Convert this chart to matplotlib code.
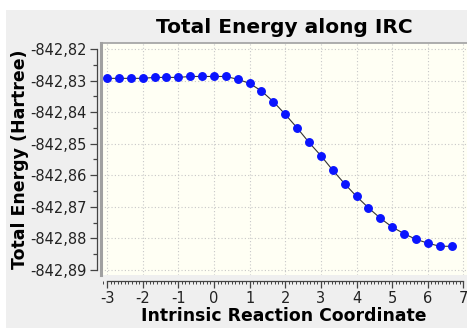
import numpy as np
import matplotlib
matplotlib.use("Agg")
from matplotlib import pyplot as plt
from matplotlib.patches import Rectangle
from matplotlib.ticker import MultipleLocator, FixedLocator, FixedFormatter

# IRC points, step 1/3 in reaction coordinate
irc = [-3.0, -2.667, -2.333, -2.0, -1.667, -1.333, -1.0, -0.667, -0.333, 0.0,
       0.333, 0.667, 1.0, 1.333, 1.667, 2.0, 2.333, 2.667, 3.0, 3.333,
       3.667, 4.0, 4.333, 4.667, 5.0, 5.333, 5.667, 6.0, 6.333, 6.667]
energy = [-842.8293, -842.8293, -842.8293, -842.8293, -842.8290, -842.8290,
          -842.8290, -842.8287, -842.8287, -842.8287, -842.8287, -842.8296,
          -842.8309, -842.8333, -842.8367, -842.8407, -842.8450, -842.8496,
          -842.8538, -842.8584, -842.8627, -842.8667, -842.8703, -842.8736,
          -842.8764, -842.8785, -842.8803, -842.8815, -842.8825, -842.8825]

xticks = [-3, -2, -1, 0, 1, 2, 3, 4, 5, 6, 7]
yticks = [-842.82, -842.83, -842.84, -842.85, -842.86, -842.87, -842.88, -842.89]
ylabels = ["-842,82", "-842,83", "-842,84", "-842,85", "-842,86", "-842,87", "-842,88", "-842,89"]

fig = plt.figure(figsize=(4.67, 3.28), dpi=100, facecolor="white")
# grey panel behind the chart
fig.patches.append(Rectangle((6/467, 0), 1, 1 - 10/328, transform=fig.transFigure,
                             facecolor="#efefef", edgecolor="none", zorder=-10))

ax = fig.add_axes((101/467, 1 - 275/328, 366/467, 232/328))
ax.set_facecolor("#fffff4")

ax.plot(irc, energy, color="#333333", lw=0.8, marker="o", ms=5.4,
        mfc="#0a14ff", mec="#0a14ff", zorder=3)

ax.set_xlim(-3.17, 7.1)
ax.set_ylim(-842.8916, -842.8181)

ax.xaxis.set_major_locator(FixedLocator(xticks))
ax.xaxis.set_minor_locator(MultipleLocator(0.1))
ax.yaxis.set_major_locator(FixedLocator(yticks))
ax.yaxis.set_major_formatter(FixedFormatter(ylabels))
ax.yaxis.set_minor_locator(MultipleLocator(0.005))
ax.set_xticklabels([str(v) for v in xticks])

ax.grid(which="major", color="#c8c8c8", ls=(0, (1, 2)), lw=0.8)

for s in ["top", "right"]:
    ax.spines[s].set_visible(False)
ax.spines["left"].set_position(("outward", 3))
ax.spines["left"].set_bounds(-842.89, -842.82)
ax.spines["bottom"].set_position(("outward", 4))
ax.spines["bottom"].set_bounds(-3, 7)
ax.spines["left"].set_color("#444444")
ax.spines["bottom"].set_color("#444444")
ax.spines["left"].set_linewidth(0.9)
ax.spines["bottom"].set_linewidth(0.9)

# plot area frame
ax.plot([0, 0], [0, 1], transform=ax.transAxes, color="#a0a0a0", lw=2.2, clip_on=False, zorder=4)
ax.plot([0, 1], [1, 1], transform=ax.transAxes, color="#a0a0a0", lw=1.2, clip_on=False, zorder=4)

ax.tick_params(axis="both", which="major", direction="out", length=5, width=0.9,
               color="#444444", labelsize=10.5, labelcolor="#222222", pad=2.5)
ax.tick_params(axis="x", which="minor", direction="out", length=2.5, width=0.7, color="#444444")
ax.tick_params(axis="y", which="minor", direction="out", length=3, width=0.9, color="#444444")

ax.set_title("Total Energy along IRC", fontsize=14.5, fontweight="bold", pad=7)
ax.set_xlabel("Intrinsic Reaction Coordinate", fontsize=12.4, fontweight="bold", labelpad=1)
ax.set_ylabel("Total Energy (Hartree)", fontsize=12.5, fontweight="bold", labelpad=1)

fig.savefig("out.png", dpi=100, facecolor=fig.get_facecolor())
